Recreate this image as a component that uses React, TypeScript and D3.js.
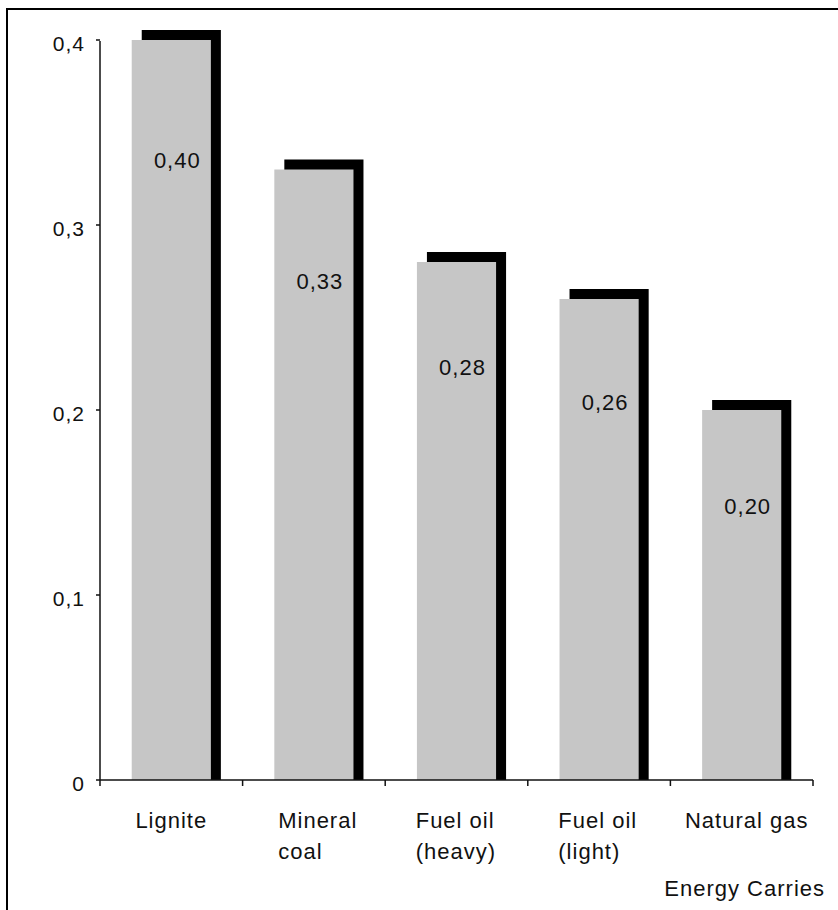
import React from "react";
import * as d3 from "d3";

const categories: string[][] = [
  ["Lignite"],
  ["Mineral", "coal"],
  ["Fuel oil", "(heavy)"],
  ["Fuel oil", "(light)"],
  ["Natural gas"],
];
const values: number[] = [0.4, 0.33, 0.28, 0.26, 0.2];
const valueLabels: string[] = ["0,40", "0,33", "0,28", "0,26", "0,20"];
const yTicks: number[] = [0, 0.1, 0.2, 0.3, 0.4];
const yTickLabels: string[] = ["0", "0,1", "0,2", "0,3", "0,4"];
const xTitle = "Energy Carries";

const W = 838;
const H = 910;
const x0 = 100;
const x1 = 813;
const yBase = 780;
const FONT = "'Liberation Sans', Arial, sans-serif";

export default function App() {
  const keys = categories.map((c) => c.join(" "));
  const x = d3
    .scaleBand<string>()
    .domain(keys)
    .range([x0, x1])
    .paddingInner(0.445)
    .paddingOuter(0.2225);
  const y = d3.scaleLinear().domain([0, 0.4]).range([yBase, 40]);
  const bw = x.bandwidth();
  const step = x.step();
  const boundaries = d3.range(keys.length + 1).map((i) => x0 + i * step);

  return (
    <div style={{ position: "absolute", left: 0, top: 0 }}>
      <svg width={W} height={H} style={{ display: "block", background: "#fff" }}>
        {/* frame */}
        <rect x={7} y={9} width={W + 20} height={H + 20} fill="none" stroke="#000" strokeWidth={2} />

        {/* bars */}
        {keys.map((k, i) => {
          const bx = x(k)!;
          const by = y(values[i]);
          return (
            <g key={k}>
              <rect x={bx + 10} y={by - 10} width={bw} height={yBase - by + 10} fill="#000" />
              <rect x={bx} y={by} width={bw} height={yBase - by} fill="#c6c6c6" />
            </g>
          );
        })}

        {/* axes */}
        <line x1={x0} y1={y(0.4) + 1} x2={x0} y2={yBase} stroke="#111" strokeWidth={1.5} />
        <line x1={x0} y1={yBase} x2={x1} y2={yBase} stroke="#111" strokeWidth={1.5} />
        {yTicks.map((t, i) => (
          <g key={t}>
            <line x1={x0 - 4} y1={y(t)} x2={x0} y2={y(t)} stroke="#111" strokeWidth={1.5} />
            <text
              x={85}
              y={y(t) + 3}
              textAnchor="end"
              dominantBaseline="central"
              fontFamily={FONT}
              fontSize={21}
              letterSpacing={1}
              fill="#111"
            >
              {yTickLabels[i]}
            </text>
          </g>
        ))}
        {boundaries.map((b, i) => (
          <line key={i} x1={b} y1={yBase} x2={b} y2={yBase + 6} stroke="#111" strokeWidth={1.5} />
        ))}

        {/* value labels */}
        {keys.map((k, i) => (
          <text
            key={k}
            x={x(k)! + bw / 2 + 6}
            y={y(values[i]) + 72 + 120 * values[i]}
            textAnchor="middle"
            dominantBaseline="central"
            fontFamily={FONT}
            fontSize={22}
            letterSpacing={1}
            fill="#111"
          >
            {valueLabels[i]}
          </text>
        ))}

        {/* category labels */}
        {categories.map((lines, i) => {
          const cx = x(keys[i])! + bw / 2;
          const longest = d3.max(lines, (l) => l.length)!;
          const approxW = longest * 10.2;
          return (
            <text
              key={keys[i]}
              fontFamily={FONT}
              fontSize={22}
              letterSpacing={1}
              fill="#111"
            >
              {lines.map((l, j) => (
                <tspan
                  key={j}
                  x={lines.length > 1 ? cx - approxW / 2 : cx + (i === 4 ? 5 : 0)}
                  y={828 + j * 31}
                  textAnchor={lines.length > 1 ? "start" : "middle"}
                >
                  {l}
                </tspan>
              ))}
            </text>
          );
        })}

        <text
          x={825}
          y={896}
          textAnchor="end"
          fontFamily={FONT}
          fontSize={22}
          letterSpacing={1}
          fill="#111"
        >
          {xTitle}
        </text>
      </svg>
    </div>
  );
}
